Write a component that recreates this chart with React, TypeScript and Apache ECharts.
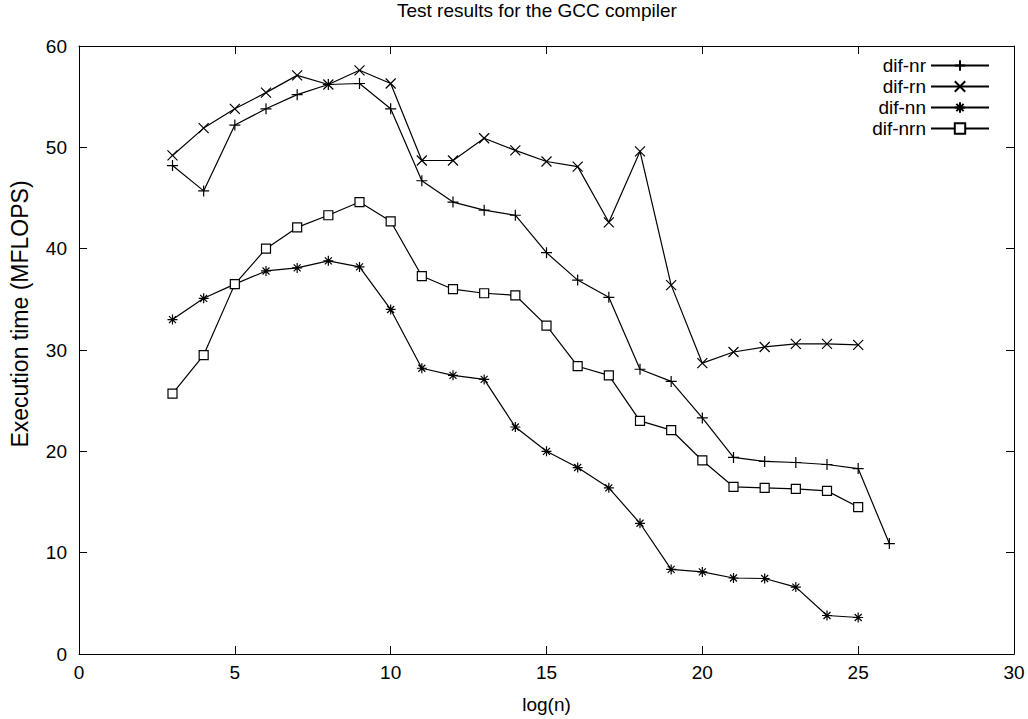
import React, { useEffect, useRef } from "react";
import * as echarts from "echarts";

const titleText = "Test results for the GCC compiler";
const xName = "log(n)";
const yName = "Execution time (MFLOPS)";

const seriesNames = ["dif-nr", "dif-rn", "dif-nn", "dif-nrn"];

const xNr = [3, 4, 5, 6, 7, 8, 9, 10, 11, 12, 13, 14, 15, 16, 17, 18, 19, 20, 21, 22, 23, 24, 25, 26];
const xOther = [3, 4, 5, 6, 7, 8, 9, 10, 11, 12, 13, 14, 15, 16, 17, 18, 19, 20, 21, 22, 23, 24, 25];

const difNr = [48.2, 45.7, 52.2, 53.8, 55.2, 56.2, 56.3, 53.8, 46.7, 44.6, 43.8, 43.3, 39.6, 36.9, 35.2, 28.1, 26.9, 23.3, 19.4, 19.0, 18.9, 18.7, 18.3, 10.9];
const difRn = [49.2, 51.9, 53.8, 55.4, 57.1, 56.2, 57.6, 56.3, 48.7, 48.7, 50.9, 49.7, 48.6, 48.1, 42.6, 49.6, 36.4, 28.7, 29.8, 30.3, 30.6, 30.6, 30.5];
const difNn = [33.0, 35.1, 36.5, 37.8, 38.1, 38.8, 38.2, 34.0, 28.2, 27.5, 27.1, 22.4, 20.0, 18.4, 16.4, 12.9, 8.35, 8.1, 7.5, 7.45, 6.6, 3.8, 3.6];
const difNrn = [25.7, 29.5, 36.5, 40.0, 42.1, 43.3, 44.6, 42.7, 37.3, 36.0, 35.6, 35.4, 32.4, 28.4, 27.5, 23.0, 22.1, 19.1, 16.5, 16.4, 16.3, 16.1, 14.5];

const FONT = "'Liberation Sans', Arial, sans-serif";

const PLUS = "path://M0,5L10,5M5,0L5,10";
const CROSS = "path://M0,0L10,10M10,0L0,10";
const STAR = "path://M0,5L10,5M5,0L5,10M1.5,1.5L8.5,8.5M8.5,1.5L1.5,8.5";

function pairs(xs: number[], ys: number[]) {
  return ys.map((y, i) => [xs[i], y]);
}

export default function App() {
  const ref = useRef<HTMLDivElement>(null);
  useEffect(() => {
    if (!ref.current) return;
    const chart = echarts.init(ref.current, null, { renderer: "svg" });
    const axisLine = { show: true, onZero: false, lineStyle: { color: "#000", width: 1 } };
    const tick = { show: true, inside: true, length: 8, lineStyle: { color: "#000", width: 1 } };
    const label = { color: "#000", fontSize: 19, fontFamily: FONT };
    const mkSeries = (name: string, xs: number[], ys: number[], symbol: string, size: number, fill: string) => ({
      name,
      type: "line",
      data: pairs(xs, ys),
      symbol,
      symbolSize: size,
      showAllSymbol: true,
      lineStyle: { color: "#000", width: 1.2 },
      itemStyle: { color: fill, borderColor: "#000", borderWidth: 1.2 },
      emphasis: { disabled: true },
      z: 3,
    });
    chart.setOption({
      animation: false,
      backgroundColor: "#fff",
      title: {
        text: titleText,
        left: 397,
        top: 1,
        padding: 0,
        textStyle: { color: "#000", fontSize: 19, fontWeight: "normal", fontFamily: FONT },
      },
      legend: {
        orient: "vertical",
        align: "right",
        right: 38,
        top: 56,
        padding: 0,
        itemGap: 2,
        itemWidth: 58,
        itemHeight: 13,
        data: seriesNames,
        textStyle: { color: "#000", fontSize: 19, fontFamily: FONT },
        selectedMode: false,
      },
      grid: { left: 79, right: 14, top: 46, bottom: 65, containLabel: false },
      xAxis: [
        {
          type: "value",
          min: 0,
          max: 30,
          interval: 5,
          position: "bottom",
          name: xName,
          nameLocation: "middle",
          nameGap: 41,
          nameTextStyle: { color: "#000", fontSize: 19, fontFamily: FONT },
          axisLine,
          axisTick: tick,
          axisLabel: { ...label, margin: 9 },
          splitLine: { show: false },
        },
        {
          type: "value",
          min: 0,
          max: 30,
          interval: 5,
          position: "top",
          axisLine,
          axisTick: tick,
          axisLabel: { show: false },
          splitLine: { show: false },
        },
      ],
      yAxis: [
        {
          type: "value",
          min: 0,
          max: 60,
          interval: 10,
          position: "left",
          name: yName,
          nameLocation: "middle",
          nameGap: 48,
          nameTextStyle: { color: "#000", fontSize: 23, fontFamily: FONT, padding: [0, 0, 0, 72] },
          axisLine,
          axisTick: tick,
          axisLabel: { ...label, margin: 12 },
          splitLine: { show: false },
        },
        {
          type: "value",
          min: 0,
          max: 60,
          interval: 10,
          position: "right",
          axisLine,
          axisTick: tick,
          axisLabel: { show: false },
          splitLine: { show: false },
        },
      ],
      series: [
        mkSeries(seriesNames[0], xNr, difNr, PLUS, 11, "#000"),
        mkSeries(seriesNames[1], xOther, difRn, CROSS, 10, "#000"),
        mkSeries(seriesNames[2], xOther, difNn, STAR, 10, "#000"),
        mkSeries(seriesNames[3], xOther, difNrn, "rect", 9, "#fff"),
      ],
    });
    return () => chart.dispose();
  }, []);
  return <div ref={ref} style={{ width: 1028, height: 719, position: "absolute", left: 0, top: 0 }} />;
}
